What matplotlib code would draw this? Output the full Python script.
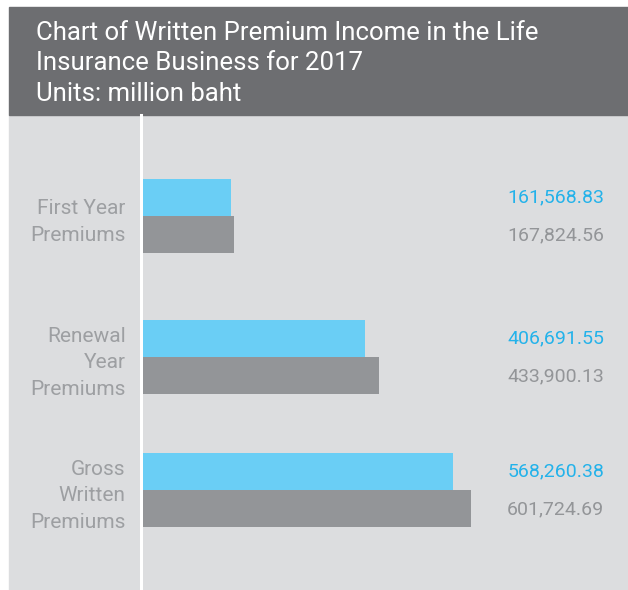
import matplotlib.pyplot as plt
from matplotlib.patches import Rectangle
from matplotlib.lines import Line2D
from matplotlib.transforms import blended_transform_factory

plt.rcParams['font.family'] = ['Roboto', 'DejaVu Sans']

categories = ['First Year\nPremiums', 'Renewal\nYear\nPremiums', 'Gross\nWritten\nPremiums']
values_a = [161568.83, 406691.55, 568260.38]
values_b = [167824.56, 433900.13, 601724.69]

title = 'Chart of Written Premium Income in the Life\nInsurance Business for 2017\nUnits: million baht'

# layout in pixels (image is 628x590, y measured from the top)
W, H = 628, 590
row_pos = [216, 357, 490]
bar_h = 37

header_col = '#6d6e71'
panel_col = '#dcdddf'
cyan = '#6acef5'
cyan_txt = '#23b2ea'
grey = '#939598'
label_col = '#9d9fa2'

fig = plt.figure(figsize=(W / 100, H / 100), dpi=100)
fig.patch.set_facecolor('white')

# panel + header backgrounds
fig.patches.append(Rectangle((9 / W, 0), (W - 9) / W, (H - 115) / H,
                             transform=fig.transFigure, color=panel_col, zorder=-2))
fig.patches.append(Rectangle((9 / W, (H - 115) / H), (W - 9) / W, 108 / H,
                             transform=fig.transFigure, color=header_col, zorder=-2))

fig.text(36 / W, (H - 21) / H, title, color='white', fontsize=18.5,
         va='top', ha='left', linespacing=1.34)

ax = fig.add_axes([143 / W, 0, (W - 143) / W, (H - 115) / H])
ax.set_facecolor('none')
for s in ax.spines.values():
    s.set_visible(False)

# white divider line
fig.lines.append(Line2D([141.3 / W, 141.3 / W], [0, (H - 115) / H],
                        transform=fig.transFigure, color='white', lw=2.2, zorder=-1))

ax.barh([p - bar_h / 2 for p in row_pos], values_a, height=bar_h, color=cyan)
ax.barh([p + bar_h / 2 for p in row_pos], values_b, height=bar_h, color=grey)

ax.set_xlim(0, (W - 143) * 1835.3)
ax.set_ylim(H, 115)
ax.set_xticks([])
ax.set_yticks(row_pos)
ax.set_yticklabels(categories, fontsize=15, color=label_col, ha='right',
                   linespacing=1.5)
ax.tick_params(axis='y', length=0, pad=12.5)

tr = blended_transform_factory(ax.transAxes, ax.transData)
xv = (604 - 143) / (W - 143)
for i, p in enumerate(row_pos):
    ax.text(xv, p - bar_h / 2, f'{values_a[i]:,.2f}', transform=tr,
            ha='right', va='center', fontsize=14, color=cyan_txt)
    ax.text(xv, p + bar_h / 2 + 1, f'{values_b[i]:,.2f}', transform=tr,
            ha='right', va='center', fontsize=14, color=grey)

fig.savefig('out.png', dpi=100)
